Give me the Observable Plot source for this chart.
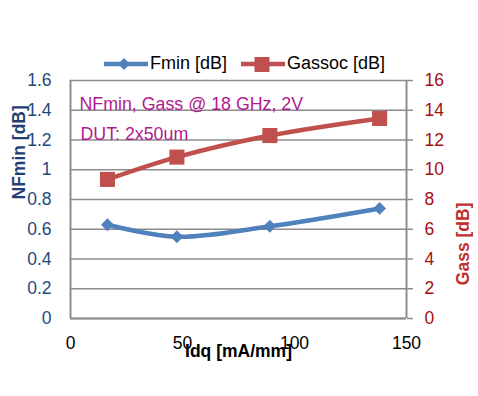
<!DOCTYPE html>
<html>
<head>
<meta charset="utf-8">
<script src="https://cdn.jsdelivr.net/npm/d3@7"></script>
<script src="https://cdn.jsdelivr.net/npm/@observablehq/plot@0.6"></script>
<style>
  body { margin: 0; background: #fff; font-family: "Liberation Sans", Arial, sans-serif; }
  #wrap { position: relative; width: 478px; height: 396px; }
  #legend { position: absolute; top: 53px; left: 103px; display: flex; align-items: center; font-size: 18px; color: #000; white-space: nowrap; }
  #legend .item { display: flex; align-items: center; margin-right: 13px; }
  #legend svg { margin-right: 1px; }
</style>
</head>
<body>
<div id="wrap">
  <div id="chart"></div>
  <div id="legend"></div>
</div>
<script>
const idq = [16.5, 47.5, 89, 138];
const fmin = [0.63, 0.55, 0.62, 0.74];
const gassoc = [9.35, 10.85, 12.3, 13.45];
const leftTicks = [0, 0.2, 0.4, 0.6, 0.8, 1, 1.2, 1.4, 1.6];
const rightTicks = [0, 2, 4, 6, 8, 10, 12, 14, 16];
const xTicks = [0, 50, 100, 150];
const seriesNames = ["Fmin [dB]", "Gassoc [dB]"];
const notes = ["NFmin, Gass @ 18 GHz, 2V", "DUT: 2x50um"];

const blue = "#4F81BD", red = "#C0504D", grid = "#8C8C8C";
const fData = idq.map((x, i) => ({x, y: fmin[i]}));
const gData = idq.map((x, i) => ({x, y: gassoc[i] / 10, g: gassoc[i]}));

const chart = Plot.plot({
  width: 478,
  height: 396,
  marginTop: 80,
  marginBottom: 78,
  marginLeft: 70,
  marginRight: 72,
  style: {fontFamily: "Liberation Sans, Arial, sans-serif", fontSize: "17px", background: "#fff"},
  x: {domain: [0, 150]},
  y: {domain: [0, 1.6]},
  marks: [
    Plot.gridY(leftTicks, {stroke: grid, strokeOpacity: 1, strokeWidth: 1.5}),
    Plot.ruleX([0, 150], {stroke: grid, strokeWidth: 2}),
    Plot.ruleY([0], {stroke: grid, strokeWidth: 2}),
    Plot.axisY({anchor: "left", ticks: leftTicks, tickSize: 0, tickPadding: 19, tickFormat: d => String(d), fill: "#1F497D", fontSize: 17.5, label: null}),
    Plot.axisY({anchor: "right", ticks: leftTicks, tickSize: 6, tickPadding: 12, stroke: grid, strokeWidth: 1.5, tickFormat: (d, i) => String(rightTicks[i]), fill: "#A50F0F", fontSize: 17.5, label: null}),
    Plot.axisX({ticks: xTicks, tickSize: 0, tickPadding: 18, fill: "#000", fontSize: 17.5, label: null}),
    Plot.text(["Idq [mA/mm]"], {frameAnchor: "bottom", dy: 38, fontWeight: "bold", fontSize: 17.5, fill: "#000"}),
    Plot.text(["NFmin [dB]"], {frameAnchor: "left", dx: -51, rotate: -90, fontWeight: "bold", fontSize: 17.5, fill: "#1F3F75"}),
    Plot.text(["Gass [dB]"], {frameAnchor: "right", dx: 57, dy: 3, rotate: -90, fontWeight: "bold", fontSize: 17.5, fill: "#C0302C"}),
    Plot.text([notes[0]], {frameAnchor: "top-left", dx: 9, dy: 17, textAnchor: "start", fontSize: 17.8, fill: "#B0198F"}),
    Plot.text([notes[1]], {frameAnchor: "top-left", dx: 10, dy: 47, textAnchor: "start", fontSize: 17.8, fill: "#B0198F"}),
    Plot.line(gData, {x: "x", y: "y", stroke: red, strokeWidth: 4.5, curve: "catmull-rom"}),
    Plot.dot(gData, {x: "x", y: "y", symbol: "square", r: 8.5, fill: red, stroke: "none"}),
    Plot.line(fData, {x: "x", y: "y", stroke: blue, strokeWidth: 4.5, curve: "catmull-rom"}),
    Plot.dot(fData, {x: "x", y: "y", symbol: "diamond2", r: 5.8, fill: blue, stroke: "none"})
  ]
});
document.getElementById("chart").appendChild(chart);

const legend = document.getElementById("legend");
const swatches = [
  `<svg width="46" height="20"><line x1="1" y1="10" x2="45" y2="10" stroke="${blue}" stroke-width="4.5"/><path d="M21,4 L27,10 L21,16 L15,10 Z" fill="${blue}"/></svg>`,
  `<svg width="46" height="20"><line x1="1" y1="10" x2="45" y2="10" stroke="${red}" stroke-width="4.5"/><rect x="14.5" y="3" width="15" height="15" fill="${red}"/></svg>`
];
seriesNames.forEach((name, i) => {
  const item = document.createElement("div");
  item.className = "item";
  item.innerHTML = swatches[i] + `<span>${name}</span>`;
  legend.appendChild(item);
});
</script>
</body>
</html>
